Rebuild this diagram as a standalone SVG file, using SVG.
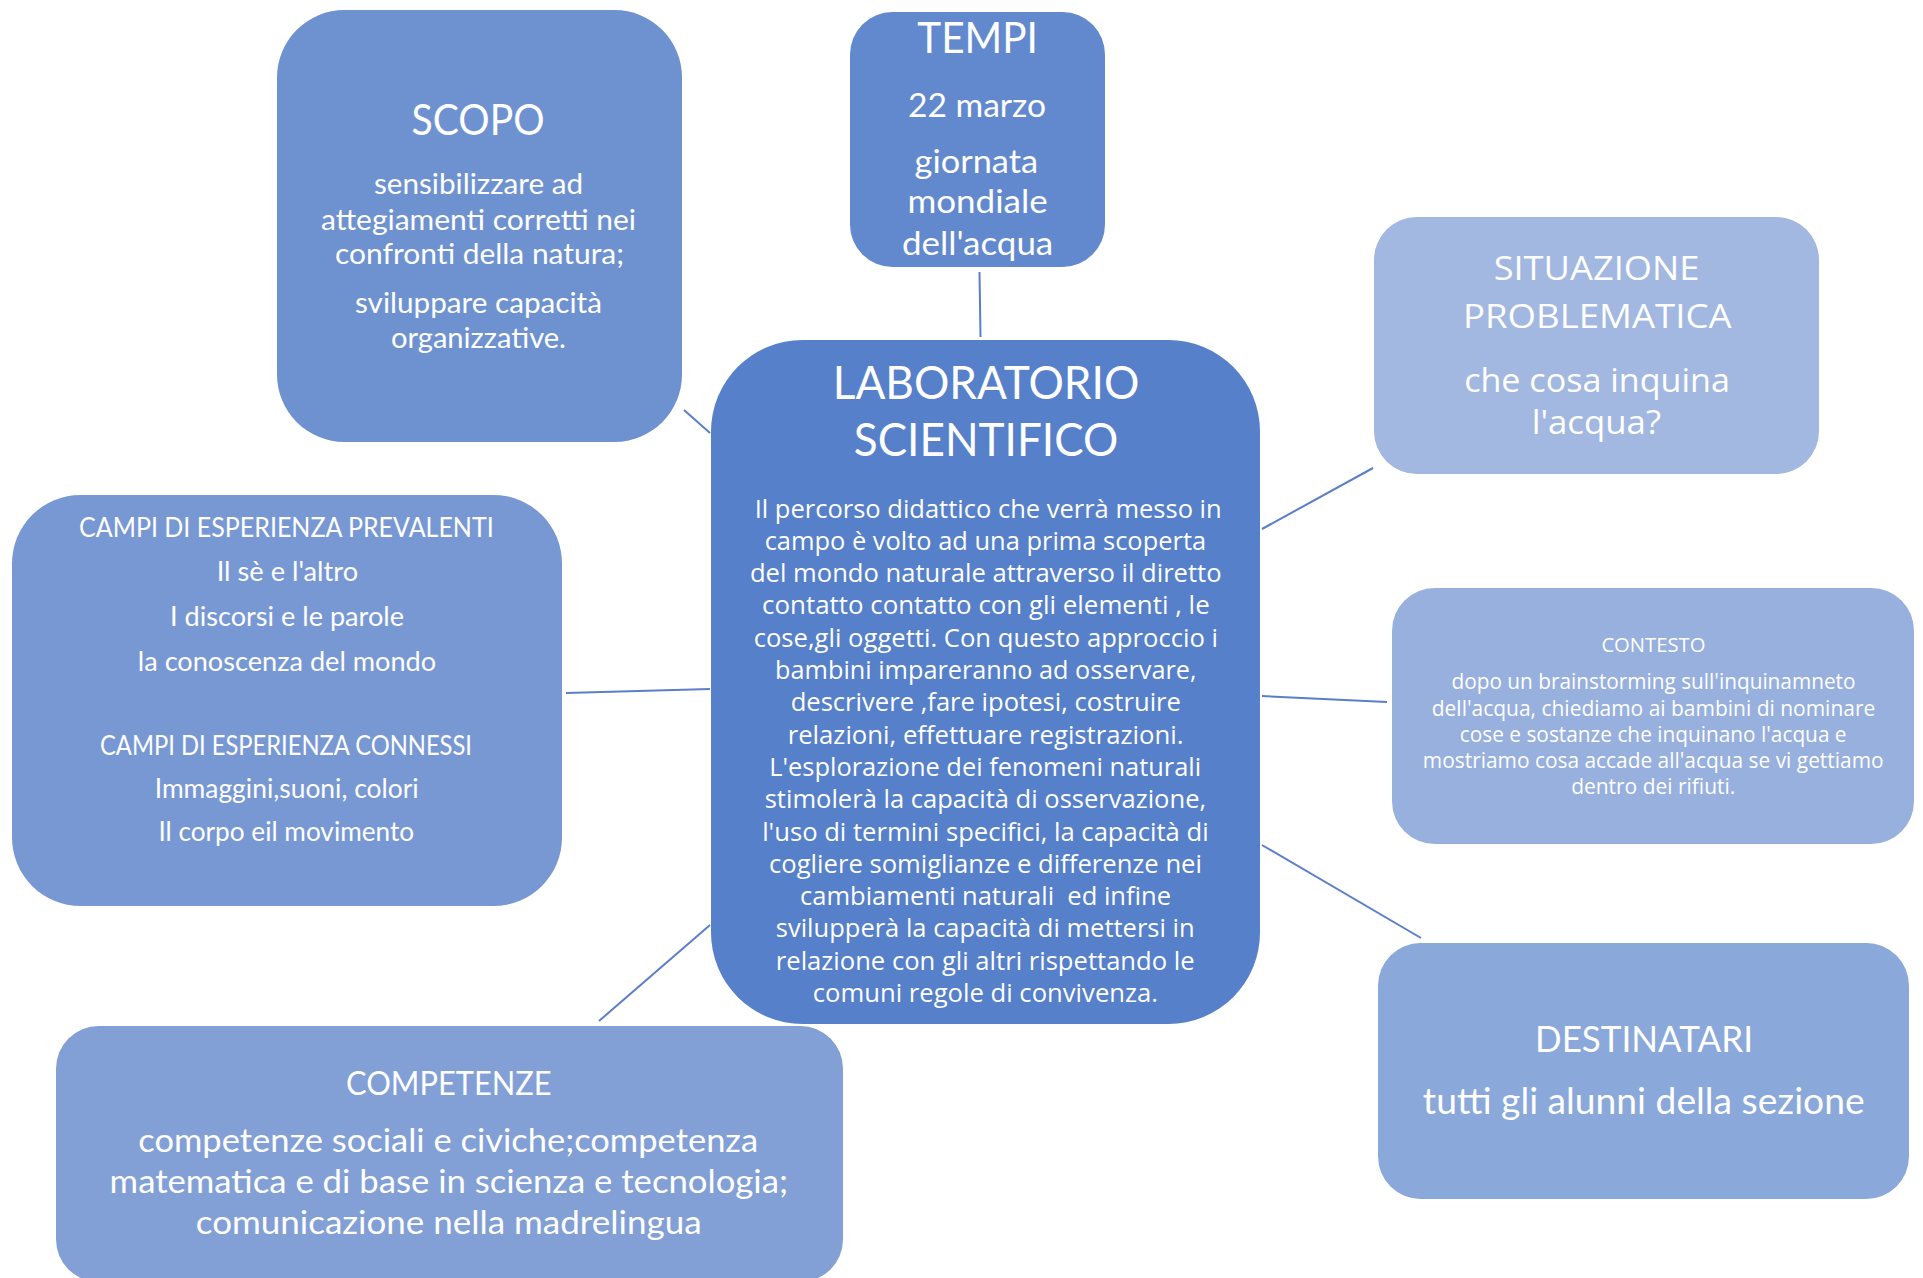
<svg xmlns="http://www.w3.org/2000/svg" width="1923" height="1278" viewBox="0 0 1923 1278">
<style>
.c{font-family:Lato,"Liberation Sans",sans-serif;fill:#ffffff;text-anchor:middle}
.s{font-family:"Open Sans","DejaVu Sans",sans-serif;fill:#ffffff;text-anchor:middle}
.ln{stroke:#5a7ec8;stroke-width:2;fill:none}
</style>
<rect width="1923" height="1278" fill="#ffffff"/>
<g id="connectors">
<line class="ln" x1="684" y1="410" x2="710" y2="433"/>
<line class="ln" x1="979.5" y1="272" x2="980.5" y2="337"/>
<line class="ln" x1="1262" y1="529" x2="1373" y2="468"/>
<line class="ln" x1="1262" y1="696" x2="1387" y2="702"/>
<line class="ln" x1="1262" y1="845" x2="1421" y2="938"/>
<line class="ln" x1="566" y1="693" x2="710" y2="689"/>
<line class="ln" x1="599" y1="1021" x2="710" y2="925"/>
</g>
<g id="scopo">
<rect x="277" y="10" width="405" height="432" rx="67.5" fill="#6e92d0"/>
<text class="c" font-size="42" x="478" y="135" textLength="133" lengthAdjust="spacingAndGlyphs">SCOPO</text>
<g font-size="28.5">
<text class="c" x="478.5" y="194" textLength="209" lengthAdjust="spacingAndGlyphs">sensibilizzare ad</text>
<text class="c" x="478.5" y="229.5" textLength="315" lengthAdjust="spacingAndGlyphs">attegiamenti corretti nei</text>
<text class="c" x="479.5" y="264" textLength="289" lengthAdjust="spacingAndGlyphs">confronti della natura;</text>
<text class="c" x="478.5" y="313" textLength="247" lengthAdjust="spacingAndGlyphs">sviluppare capacità</text>
<text class="c" x="478.5" y="348" textLength="175" lengthAdjust="spacingAndGlyphs">organizzative.</text>
</g>
</g>
<g id="tempi">
<rect x="850" y="12" width="255" height="255" rx="42.5" fill="#6289cd"/>
<text class="c" font-size="42" x="977.6" y="52.7" textLength="120.7" lengthAdjust="spacingAndGlyphs">TEMPI</text>
<g font-size="32.7">
<text class="c" x="977" y="116.7" textLength="138" lengthAdjust="spacingAndGlyphs">22 marzo</text>
<text class="c" x="976.3" y="173.3" textLength="123.5" lengthAdjust="spacingAndGlyphs">giornata</text>
<text class="c" x="977.6" y="213.3" textLength="140.4" lengthAdjust="spacingAndGlyphs">mondiale</text>
<text class="c" x="977.6" y="255" textLength="151.3" lengthAdjust="spacingAndGlyphs">dell'acqua</text>
</g>
</g>
<g id="laboratorio">
<rect x="711" y="340" width="549" height="684" rx="91.5" fill="#5680c9"/>
<text class="c" font-size="47" x="986" y="399" textLength="306.5" lengthAdjust="spacingAndGlyphs">LABORATORIO</text>
<text class="c" font-size="47" x="986" y="456" textLength="264.5" lengthAdjust="spacingAndGlyphs">SCIENTIFICO</text>
<g font-size="25">
<text class="s" x="988.2" y="517.5" textLength="467" lengthAdjust="spacingAndGlyphs">Il percorso didattico che verrà messo in</text>
<text class="s" x="985.4" y="549.8" textLength="441.4" lengthAdjust="spacingAndGlyphs">campo è volto ad una prima scoperta</text>
<text class="s" x="985.8" y="582.1" textLength="471.7" lengthAdjust="spacingAndGlyphs">del mondo naturale attraverso il diretto</text>
<text class="s" x="985.9" y="614.4" textLength="447.6" lengthAdjust="spacingAndGlyphs">contatto contatto con gli elementi , le</text>
<text class="s" x="985.8" y="646.7" textLength="464.3" lengthAdjust="spacingAndGlyphs">cose,gli oggetti. Con questo approccio i</text>
<text class="s" x="985.8" y="679" textLength="421.4" lengthAdjust="spacingAndGlyphs">bambini impareranno ad osservare,</text>
<text class="s" x="985.8" y="711.3" textLength="390.3" lengthAdjust="spacingAndGlyphs">descrivere ,fare ipotesi, costruire</text>
<text class="s" x="985.6" y="743.6" textLength="395.9" lengthAdjust="spacingAndGlyphs">relazioni, effettuare registrazioni.</text>
<text class="s" x="985.2" y="775.9" textLength="432" lengthAdjust="spacingAndGlyphs">L'esplorazione dei fenomeni naturali</text>
<text class="s" x="985.4" y="808.2" textLength="441.4" lengthAdjust="spacingAndGlyphs">stimolerà la capacità di osservazione,</text>
<text class="s" x="985.4" y="840.5" textLength="446.5" lengthAdjust="spacingAndGlyphs">l'uso di termini specifici, la capacità di</text>
<text class="s" x="985.5" y="872.8" textLength="432.9" lengthAdjust="spacingAndGlyphs">cogliere somiglianze e differenze nei</text>
<text class="s" x="985.5" y="905.1" textLength="371" lengthAdjust="spacingAndGlyphs" xml:space="preserve">cambiamenti naturali  ed infine</text>
<text class="s" x="985.2" y="937.4" textLength="418.8" lengthAdjust="spacingAndGlyphs">svilupperà la capacità di mettersi in</text>
<text class="s" x="985.2" y="969.7" textLength="418.8" lengthAdjust="spacingAndGlyphs">relazione con gli altri rispettando le</text>
<text class="s" x="985.4" y="1002" textLength="345.2" lengthAdjust="spacingAndGlyphs">comuni regole di convivenza.</text>
</g>
</g>
<g id="situazione">
<rect x="1374" y="217" width="445" height="257" rx="42.8" fill="#a2b8e0"/>
<g font-size="33">
<text class="s" x="1596.5" y="280" textLength="205.7" lengthAdjust="spacingAndGlyphs">SITUAZIONE</text>
<text class="s" x="1597.3" y="327.5" textLength="268.6" lengthAdjust="spacingAndGlyphs">PROBLEMATICA</text>
<text class="s" x="1597" y="391.5" textLength="265.7" lengthAdjust="spacingAndGlyphs">che cosa inquina</text>
<text class="s" x="1596.3" y="433.6" textLength="129.3" lengthAdjust="spacingAndGlyphs">l'acqua?</text>
</g>
</g>
<g id="contesto">
<rect x="1392" y="588" width="522" height="256" rx="42.7" fill="#97b0de"/>
<text class="s" font-size="20" x="1653.4" y="652.4" textLength="104" lengthAdjust="spacingAndGlyphs">CONTESTO</text>
<g font-size="21">
<text class="s" x="1653.5" y="689" textLength="404" lengthAdjust="spacingAndGlyphs">dopo un brainstorming sull'inquinamneto</text>
<text class="s" x="1653.5" y="715.5" textLength="443.5" lengthAdjust="spacingAndGlyphs">dell'acqua, chiediamo ai bambini di nominare</text>
<text class="s" x="1653.2" y="742" textLength="386.7" lengthAdjust="spacingAndGlyphs">cose e sostanze che inquinano l'acqua e</text>
<text class="s" x="1653.2" y="768.2" textLength="460.7" lengthAdjust="spacingAndGlyphs">mostriamo cosa accade all'acqua se vi gettiamo</text>
<text class="s" x="1653.2" y="794.3" textLength="164.1" lengthAdjust="spacingAndGlyphs">dentro dei rifiuti.</text>
</g>
</g>
<g id="campi">
<rect x="12" y="495" width="550" height="411" rx="68.5" fill="#7898d4"/>
<g font-size="26.2">
<text class="c" x="286.4" y="536.7" textLength="414.6" lengthAdjust="spacingAndGlyphs">CAMPI DI ESPERIENZA PREVALENTI</text>
<text class="c" x="287.4" y="581" textLength="141.4" lengthAdjust="spacingAndGlyphs">Il sè e l'altro</text>
<text class="c" x="287" y="626" textLength="234" lengthAdjust="spacingAndGlyphs">I discorsi e le parole</text>
<text class="c" x="287" y="671" textLength="298.4" lengthAdjust="spacingAndGlyphs">la conoscenza del mondo</text>
<text class="c" x="286" y="755" textLength="372" lengthAdjust="spacingAndGlyphs">CAMPI DI ESPERIENZA CONNESSI</text>
<text class="c" x="286.7" y="797.7" textLength="264" lengthAdjust="spacingAndGlyphs">Immaggini,suoni, colori</text>
<text class="c" x="286.3" y="841" textLength="255.7" lengthAdjust="spacingAndGlyphs">Il corpo eil movimento</text>
</g>
</g>
<g id="competenze">
<rect x="56" y="1026" width="787" height="256" rx="42.7" fill="#82a0d6"/>
<text class="c" font-size="33" x="448.8" y="1095" textLength="205.5" lengthAdjust="spacingAndGlyphs">COMPETENZE</text>
<g font-size="33.3">
<text class="c" x="448.2" y="1152" textLength="619.8" lengthAdjust="spacingAndGlyphs">competenze sociali e civiche;competenza</text>
<text class="c" x="448.8" y="1193" textLength="678.4" lengthAdjust="spacingAndGlyphs">matematica e di base in scienza e tecnologia;</text>
<text class="c" x="448.7" y="1234" textLength="505.7" lengthAdjust="spacingAndGlyphs">comunicazione nella madrelingua</text>
</g>
</g>
<g id="destinatari">
<rect x="1378" y="943" width="531" height="256" rx="42.7" fill="#8aa8da"/>
<text class="c" font-size="36.5" x="1644" y="1051.7" textLength="218" lengthAdjust="spacingAndGlyphs">DESTINATARI</text>
<text class="c" font-size="36" x="1643.7" y="1114.3" textLength="441.7" lengthAdjust="spacingAndGlyphs">tutti gli alunni della sezione</text>
</g>
</svg>
